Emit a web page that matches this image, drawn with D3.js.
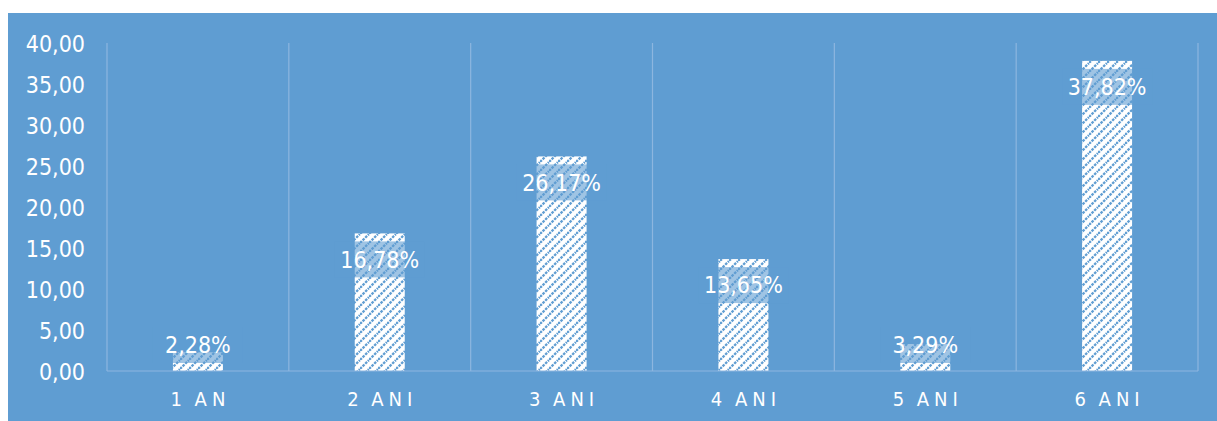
<!DOCTYPE html>
<html><head><meta charset="utf-8">
<script src="https://cdn.jsdelivr.net/npm/d3@7"></script>
<style>
html,body{margin:0;padding:0;background:#fff;}
svg{display:block;}
</style></head>
<body>
<svg id="chart" width="1217" height="421"></svg>
<script>
const categories = ["1 AN","2 ANI","3 ANI","4 ANI","5 ANI","6 ANI"];
const values = [2.28,16.78,26.17,13.65,3.29,37.82];
const yTicks = [0,5,10,15,20,25,30,35,40];

const W = 1217, H = 421;
const bg = "#5F9DD2";
const grid = "#8DB6DF";
const font = "'DejaVu Sans Condensed','DejaVu Sans',sans-serif";
const m = {left:107, right:1198, top:43, bottom:371};

const svg = d3.select("#chart");
const defs = svg.append("defs");
const P = 9;
const pat = defs.append("pattern").attr("id","hatch").attr("patternUnits","userSpaceOnUse")
  .attr("width",P).attr("height",P);
pat.append("rect").attr("width",P).attr("height",P).attr("fill","#fff");
pat.append("path").attr("d",`M-2,2 L2,-2 M0,${P} L${P},0 M${P-2},${P+2} L${P+2},${P-2}`)
  .attr("stroke",bg).attr("stroke-width",2.3).attr("stroke-dasharray","2.6,1.1");

svg.append("rect").attr("x",8).attr("y",13).attr("width",W-8).attr("height",H-13).attr("fill",bg);

const x = d3.scaleBand().domain(categories).range([m.left,m.right]).padding(0);
const y = d3.scaleLinear().domain([0,40]).range([m.bottom,m.top]);

// vertical gridlines at category boundaries
const bounds = categories.map(c=>x(c)).concat([m.right]);
svg.append("g").selectAll("line").data(bounds).join("line")
  .attr("x1",d=>d).attr("x2",d=>d).attr("y1",m.top).attr("y2",m.bottom)
  .attr("stroke",grid).attr("stroke-width",1.2);

// y axis labels
const yAxis = d3.axisLeft(y).tickValues(yTicks).tickSize(0).tickPadding(22)
  .tickFormat(d=>d3.format(".2f")(d).replace(".",","));
const gy = svg.append("g").attr("transform",`translate(${m.left},0)`).call(yAxis);
gy.select(".domain").remove();
gy.selectAll("text").attr("fill","#fff").attr("font-family",font).attr("font-size",23).attr("dy","0.36em");

// bars
const bw = x.bandwidth()*0.275;
svg.append("g").selectAll("rect").data(values).join("rect")
  .attr("x",(d,i)=>x(categories[i])+x.bandwidth()/2-bw/2)
  .attr("width",bw)
  .attr("y",d=>y(d)).attr("height",d=>y(0)-y(d))
  .attr("fill","url(#hatch)");

// baseline
svg.append("line").attr("x1",m.left).attr("x2",m.right).attr("y1",m.bottom).attr("y2",m.bottom)
  .attr("stroke",grid).attr("stroke-width",1.2);

// labels
const lblH = 36;
const lg = svg.append("g");
values.forEach((v,i)=>{
  const cx = x(categories[i])+x.bandwidth()/2;
  let top = Math.min(y(v)+8, m.bottom-8-lblH);
  const t = d3.format(".2f")(v).replace(".",",")+"%";
  lg.append("rect").attr("x",cx-45).attr("y",top).attr("width",90).attr("height",lblH)
    .attr("fill",bg).attr("fill-opacity",0.6);
  lg.append("text").attr("x",cx).attr("y",top+lblH/2).attr("dy","0.36em")
    .attr("text-anchor","middle").attr("fill","#fff").attr("font-family",font).attr("font-size",23)
    .text(t);
});

// x labels
svg.append("g").selectAll("text").data(categories).join("text")
  .attr("x",d=>x(d)+x.bandwidth()/2+2.5).attr("y",406)
  .attr("text-anchor","middle").attr("fill","#fff").attr("font-family",font)
  .attr("font-size",20).attr("letter-spacing",5).attr("word-spacing",-3).text(d=>d);
</script>
</body></html>
